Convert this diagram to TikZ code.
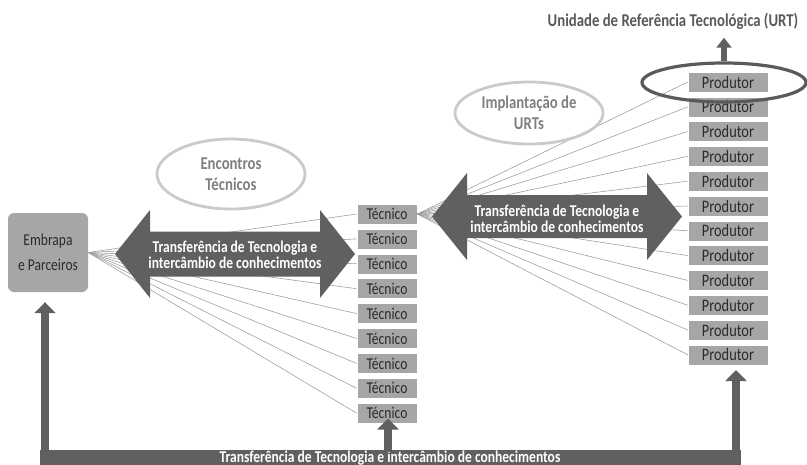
\documentclass[tikz,border=0pt]{standalone}
\usepackage{fontspec}
\setmainfont{Carlito}[FakeStretch=0.82]
\usetikzlibrary{arrows.meta,shapes.geometric}
\definecolor{arrowgray}{HTML}{606060}
\definecolor{boxgray}{HTML}{A6A6A6}
\definecolor{ringlight}{HTML}{CACACA}
\definecolor{ringdark}{HTML}{5A5A5A}
\definecolor{fangray}{HTML}{A0A0A0}
\definecolor{titlegray}{HTML}{7F7F7F}
\definecolor{urtgray}{HTML}{595959}
\definecolor{txtdark}{HTML}{2B2B2B}
\begin{document}
\begin{tikzpicture}[x=1pt,y=-1pt,
  smallbox/.style={fill=boxgray, draw=white, line width=0.6pt, minimum height=20pt,
    inner sep=0pt, text=txtdark, font=\fontsize{16.5}{16.5}\selectfont},
  tecbox/.style={smallbox, minimum width=60pt},
  prodbox/.style={smallbox, minimum width=80pt, font=\fontsize{17.5}{17.5}\selectfont},
  bigbox/.style={fill=boxgray, rounded corners=6pt, minimum width=80pt, minimum height=79pt,
    inner sep=0pt, text=txtdark, align=center, font=\fontsize{16.5}{25}\selectfont},
  fan/.style={draw=fangray, line width=0.6pt},
  ring/.style={ellipse, draw=ringlight, line width=2.8pt, inner sep=0pt, align=center,
    text=titlegray, font=\bfseries\fontsize{18}{21}\selectfont},
  bigarrow/.style={fill=arrowgray},
  arrowtext/.style={text=white, align=center, font=\bfseries\fontsize{16.5}{16.5}\selectfont},
  uparrow/.style={draw=arrowgray, line width=8.5pt,
    -{Triangle[width=21pt,length=11pt]}},
  urtarrow/.style={draw=arrowgray, line width=6.5pt,
    -{Triangle[width=15pt,length=10pt]}},
]
\useasboundingbox (0,0) rectangle (807,464);
\clip (0,0) rectangle (807,464);

% boxes
\node[bigbox] (emb) at (48,252.5) {Embrapa\\e Parceiros};
\foreach \i in {1,...,9}
  \node[tecbox] (t\i) at (387,{214+24.9*(\i-1)}) {Técnico};
\foreach \j in {1,...,12}
  \node[prodbox] (p\j) at (728,{82+24.8*(\j-1)}) {Produtor};

% fan lines
\foreach \i in {1,...,9}
  \draw[fan] (emb.east) -- (t\i.west);
\foreach \j in {1,...,12}
  \draw[fan] (t1.east) -- (p\j.west);

% double arrows
\fill[bigarrow] (115,254) -- (150,210) -- (150,231.5) -- (320,231.5) -- (320,210)
  -- (355,254) -- (320,298) -- (320,276.5) -- (150,276.5) -- (150,298) -- cycle;
\node[arrowtext] (la) at (235,255) {Transferência de Tecnologia e\\intercâmbio de conhecimentos};
\fill[bigarrow] (432,216.5) -- (467,173) -- (467,195) -- (647,195) -- (647,173)
  -- (682,216.5) -- (647,260) -- (647,238) -- (467,238) -- (467,260) -- cycle;
\node[arrowtext] (ra) at (557,219) {Transferência de Tecnologia e\\intercâmbio de conhecimentos};

% ellipses
\node[ring, minimum width=148pt, minimum height=70pt] (enc) at (231,174) {Encontros\\Técnicos};
\node[ring, minimum width=148pt, minimum height=62pt] (imp) at (529,113) {Implantação de\\URTs};

% URT
\node[ellipse, draw=ringdark, line width=3.2pt, minimum width=164pt, minimum height=39pt,
  inner sep=0pt] (urt) at (724,82.5) {};
\node[text=urtgray, font=\bfseries\fontsize{18}{20}\selectfont] (title) at (673,21) {Unidade de Referência Tecnológica (URT)};
\draw[urtarrow, shorten >=5pt] (urt.north) -- (urt.north |- title.south);

% bottom bar
\fill[arrowgray] (40,450) rectangle (741,476);
\node[anchor=base, text=white, font=\bfseries\fontsize{16.5}{16.5}\selectfont] (bar) at (390,462.5)
  {Transferência de Tecnologia e intercâmbio de conhecimentos};
\coordinate (bl) at (45,452);
\coordinate (bm) at (388,452);
\coordinate (br) at (736,452);
\draw[uparrow, shorten >=10pt] (bl) -- (bl |- emb.south);
\draw[uparrow, shorten >=-5pt] (bm) -- (bm |- t9.south);
\draw[uparrow, shorten >=5pt] (br) -- (br |- p12.south);
\end{tikzpicture}
\end{document}
